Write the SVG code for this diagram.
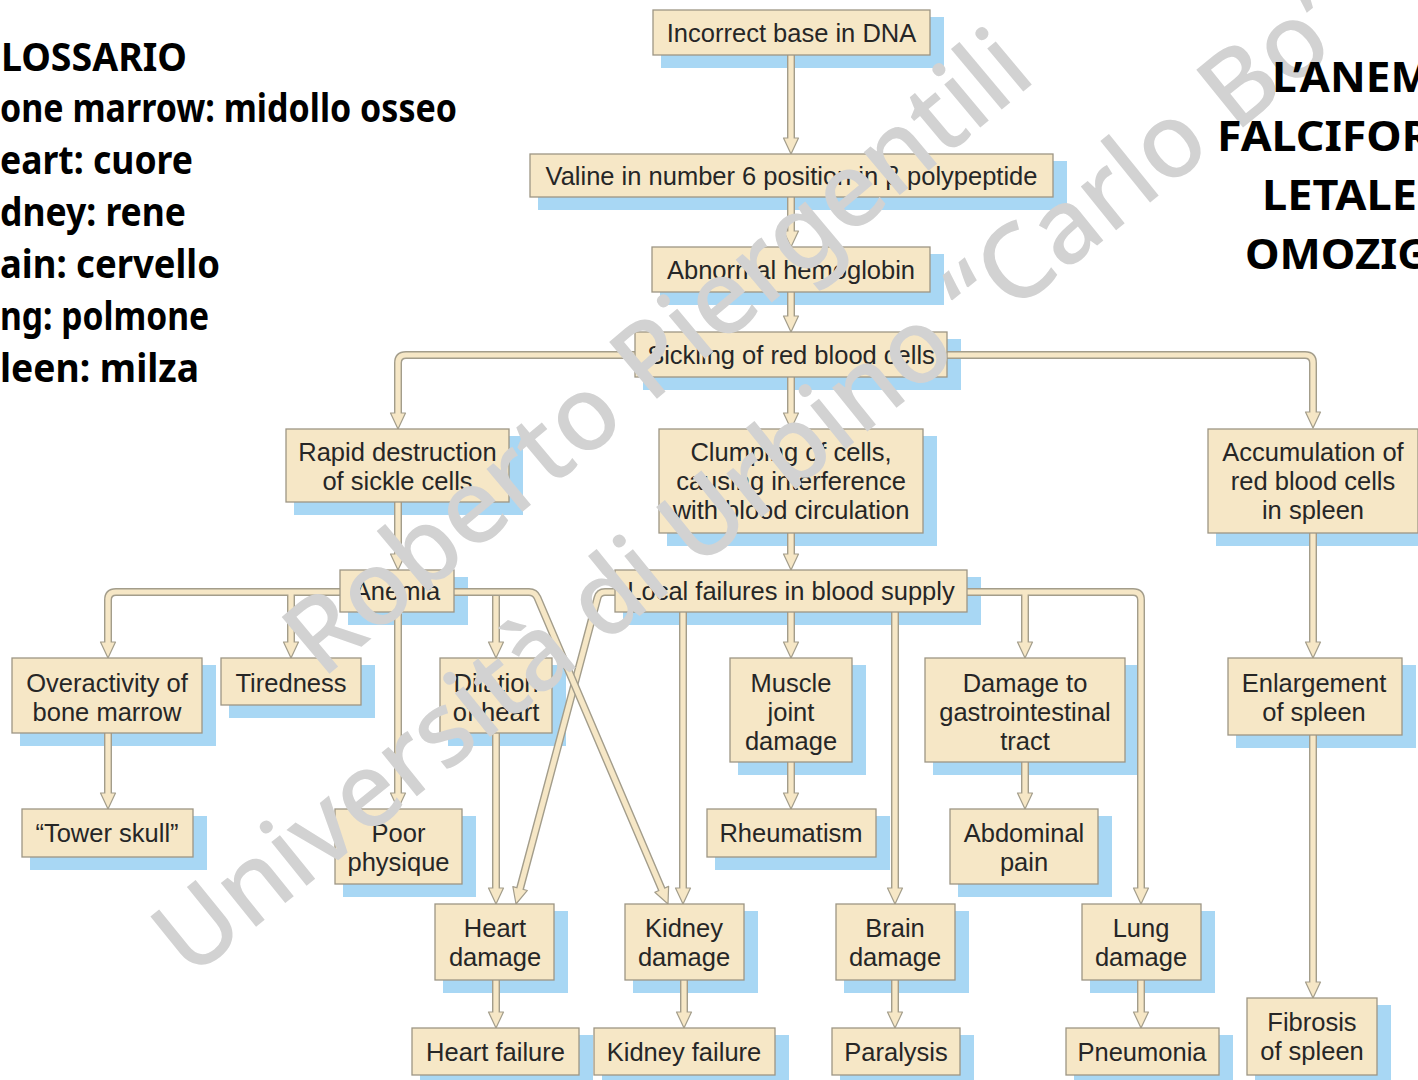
<svg xmlns="http://www.w3.org/2000/svg" xmlns:xlink="http://www.w3.org/1999/xlink" width="1418" height="1080" viewBox="0 0 1418 1080">
<style>
.sh{fill:#a8d7f4}
.bx{fill:#f6e7c6;stroke:#9d9684;stroke-width:1.3}
.t{font-family:"Liberation Sans",Arial,sans-serif;font-size:25.5px;fill:#262626;text-anchor:middle}
.outer{fill:none;stroke:#a39d8b;stroke-width:8}
.inner{fill:none;stroke:#f6e7c6;stroke-width:5.2}
.ah{fill:#f6e7c6;stroke:#a39d8b;stroke-width:1.2;stroke-linejoin:round}
.gl{font-family:"Noto Sans","DejaVu Sans",sans-serif;font-weight:bold;font-size:40px;fill:#000}
.ti{font-family:"Noto Sans","DejaVu Sans",sans-serif;font-weight:bold;font-size:42px;fill:#000}
.wm{font-family:"Noto Sans","Open Sans",sans-serif;font-weight:500;font-size:104px;fill:#d2d2d2}
</style>
<defs>
<path id="head" d="M-7.5,-16 L7.5,-16 L0,0 Z"/>
<path id="p1" d="M791,54 V141"/>
<path id="p2" d="M791,197 V234"/>
<path id="p3" d="M791,292 V319"/>
<path id="p4" d="M791,377 V416"/>
<path id="p5" d="M640,355 H406 Q398,355 398,363 V416"/>
<path id="p6" d="M942,355 H1305 Q1313,355 1313,363 V415"/>
<path id="p7" d="M398,502 V557"/>
<path id="p8" d="M791,533 V557"/>
<path id="p9" d="M345,592 H116 Q108,592 108,600 V645"/>
<path id="p10" d="M291,592 V645"/>
<path id="p11" d="M398,612 V796"/>
<path id="p13" d="M449,592 H496 V645"/>
<path id="p14" d="M496,733 V891"/>
<path id="p15" d="M620,592 H605 Q599,592 597.5,597.8 L519.3,891.4"/>
<path id="p16" d="M683,612 V891"/>
<path id="p17" d="M791,612 V645"/>
<path id="p18" d="M895,612 V891"/>
<path id="p19" d="M962,592 H1133 Q1141,592 1141,600 V891"/>
<path id="p20" d="M1025,592 V645"/>
<path id="p21" d="M791,762 V796"/>
<path id="p22" d="M1025,762 V796"/>
<path id="p23" d="M108,733 V796"/>
<path id="p24" d="M496,980 V1015"/>
<path id="p25" d="M684,980 V1015"/>
<path id="p26" d="M895,980 V1015"/>
<path id="p27" d="M1141,980 V1015"/>
<path id="p28" d="M1313,533 V645"/>
<path id="p29" d="M1313,735 V985"/>
<path id="p12" d="M449,592 H529 Q535,592 537.4,597.5 L662.9,892"/>
</defs>
<rect width="1418" height="1080" fill="#ffffff"/>

<g id="glossary">
<text class="gl" x="1" y="71" textLength="186" lengthAdjust="spacingAndGlyphs">LOSSARIO</text>
<text class="gl" x="0" y="122" textLength="457" lengthAdjust="spacingAndGlyphs">one marrow: midollo osseo</text>
<text class="gl" x="0" y="174" textLength="193" lengthAdjust="spacingAndGlyphs">eart: cuore</text>
<text class="gl" x="0" y="226" textLength="186" lengthAdjust="spacingAndGlyphs">dney: rene</text>
<text class="gl" x="0" y="278" textLength="220" lengthAdjust="spacingAndGlyphs">ain: cervello</text>
<text class="gl" x="0" y="330" textLength="209" lengthAdjust="spacingAndGlyphs">ng: polmone</text>
<text class="gl" x="0" y="382" textLength="199" lengthAdjust="spacingAndGlyphs">leen: milza</text>
</g>

<g id="shadows">
<rect class="sh" x="661" y="17" width="283" height="51"/>
<rect class="sh" x="538" y="161" width="529" height="49"/>
<rect class="sh" x="660" y="254" width="284" height="51"/>
<rect class="sh" x="643" y="339" width="318" height="51"/>
<rect class="sh" x="294" y="436" width="229" height="79"/>
<rect class="sh" x="667" y="436" width="270" height="110"/>
<rect class="sh" x="1216" y="436" width="216" height="110"/>
<rect class="sh" x="348" y="577" width="120" height="48"/>
<rect class="sh" x="623" y="577" width="358" height="48"/>
<rect class="sh" x="20" y="665" width="196" height="81"/>
<rect class="sh" x="229" y="665" width="146" height="53"/>
<rect class="sh" x="448" y="665" width="118" height="81"/>
<rect class="sh" x="738" y="665" width="128" height="110"/>
<rect class="sh" x="933" y="665" width="206" height="110"/>
<rect class="sh" x="1236" y="665" width="180" height="83"/>
<rect class="sh" x="30" y="816" width="177" height="54"/>
<rect class="sh" x="343" y="816" width="133" height="81"/>
<rect class="sh" x="715" y="816" width="175" height="54"/>
<rect class="sh" x="958" y="816" width="154" height="81"/>
<rect class="sh" x="443" y="911" width="125" height="82"/>
<rect class="sh" x="633" y="911" width="125" height="82"/>
<rect class="sh" x="844" y="911" width="125" height="82"/>
<rect class="sh" x="1090" y="911" width="125" height="82"/>
<rect class="sh" x="1255" y="1005" width="136" height="83"/>
<rect class="sh" x="420" y="1035" width="173" height="53"/>
<rect class="sh" x="602" y="1035" width="187" height="53"/>
<rect class="sh" x="840" y="1035" width="134" height="53"/>
<rect class="sh" x="1074" y="1035" width="159" height="53"/>
</g>

<g id="connectors">
<g class="outer">
<use xlink:href="#p1"/><use xlink:href="#p2"/><use xlink:href="#p3"/><use xlink:href="#p4"/><use xlink:href="#p5"/><use xlink:href="#p6"/><use xlink:href="#p7"/><use xlink:href="#p8"/><use xlink:href="#p9"/><use xlink:href="#p10"/><use xlink:href="#p11"/><use xlink:href="#p13"/><use xlink:href="#p14"/><use xlink:href="#p15"/><use xlink:href="#p16"/><use xlink:href="#p17"/><use xlink:href="#p18"/><use xlink:href="#p19"/><use xlink:href="#p20"/><use xlink:href="#p21"/><use xlink:href="#p22"/><use xlink:href="#p23"/><use xlink:href="#p24"/><use xlink:href="#p25"/><use xlink:href="#p26"/><use xlink:href="#p27"/><use xlink:href="#p28"/><use xlink:href="#p29"/>
</g>
<g class="ah">
<use xlink:href="#head" x="791" y="154"/><use xlink:href="#head" x="791" y="247"/><use xlink:href="#head" x="791" y="332"/><use xlink:href="#head" x="791" y="429"/><use xlink:href="#head" x="398" y="429"/><use xlink:href="#head" x="1313" y="428"/><use xlink:href="#head" x="398" y="570"/><use xlink:href="#head" x="791" y="570"/><use xlink:href="#head" x="108" y="658"/><use xlink:href="#head" x="291" y="658"/><use xlink:href="#head" x="398" y="809"/><use xlink:href="#head" x="496" y="658"/><use xlink:href="#head" x="496" y="904"/><use xlink:href="#head" transform="translate(516,904) rotate(14.9)"/><use xlink:href="#head" x="683" y="904"/><use xlink:href="#head" x="791" y="658"/><use xlink:href="#head" x="895" y="904"/><use xlink:href="#head" x="1141" y="904"/><use xlink:href="#head" x="1025" y="658"/><use xlink:href="#head" x="791" y="809"/><use xlink:href="#head" x="1025" y="809"/><use xlink:href="#head" x="108" y="809"/><use xlink:href="#head" x="496" y="1028"/><use xlink:href="#head" x="684" y="1028"/><use xlink:href="#head" x="895" y="1028"/><use xlink:href="#head" x="1141" y="1028"/><use xlink:href="#head" x="1313" y="658"/><use xlink:href="#head" x="1313" y="998"/>
</g>
<g class="inner">
<use xlink:href="#p1"/><use xlink:href="#p2"/><use xlink:href="#p3"/><use xlink:href="#p4"/><use xlink:href="#p5"/><use xlink:href="#p6"/><use xlink:href="#p7"/><use xlink:href="#p8"/><use xlink:href="#p9"/><use xlink:href="#p10"/><use xlink:href="#p11"/><use xlink:href="#p13"/><use xlink:href="#p14"/><use xlink:href="#p15"/><use xlink:href="#p16"/><use xlink:href="#p17"/><use xlink:href="#p18"/><use xlink:href="#p19"/><use xlink:href="#p20"/><use xlink:href="#p21"/><use xlink:href="#p22"/><use xlink:href="#p23"/><use xlink:href="#p24"/><use xlink:href="#p25"/><use xlink:href="#p26"/><use xlink:href="#p27"/><use xlink:href="#p28"/><use xlink:href="#p29"/>
</g>
<use class="outer" xlink:href="#p12"/>
<use class="ah" xlink:href="#head" transform="translate(668,904) rotate(-23.1)"/>
<use class="inner" xlink:href="#p12"/>
</g>

<g id="n-dna"><rect class="bx" x="653" y="10" width="277" height="45"/><text class="t" x="791.5" y="41.5">Incorrect base in DNA</text></g>
<g id="n-valine"><rect class="bx" x="530" y="154" width="523" height="43"/><text class="t" x="791.5" y="184.5">Valine in number 6 position in β polypeptide</text></g>
<g id="n-abnormal"><rect class="bx" x="652" y="247" width="278" height="45"/><text class="t" x="791" y="278.5">Abnormal hemoglobin</text></g>
<g id="n-sickling"><rect class="bx" x="635" y="332" width="312" height="45"/><text class="t" x="791" y="363.5">Sickling of red blood cells</text></g>
<g id="n-rapid"><rect class="bx" x="286" y="429" width="223" height="73"/><text class="t" x="397.5" y="461">Rapid destruction</text><text class="t" x="397.5" y="490">of sickle cells</text></g>
<g id="n-clumping"><rect class="bx" x="659" y="429" width="264" height="104"/><text class="t" x="791" y="461">Clumping of cells,</text><text class="t" x="791" y="490">causing interference</text><text class="t" x="791" y="519">with blood circulation</text></g>
<g id="n-accumulation"><rect class="bx" x="1208" y="429" width="210" height="104"/><text class="t" x="1313" y="461">Accumulation of</text><text class="t" x="1313" y="490">red blood cells</text><text class="t" x="1313" y="519">in spleen</text></g>
<g id="n-anemia"><rect class="bx" x="340" y="570" width="114" height="42"/><text class="t" x="397" y="600">Anemia</text></g>
<g id="n-local"><rect class="bx" x="615" y="570" width="352" height="42"/><text class="t" x="791" y="600">Local failures in blood supply</text></g>
<g id="n-overactivity"><rect class="bx" x="12" y="658" width="190" height="75"/><text class="t" x="107" y="692">Overactivity of</text><text class="t" x="107" y="721">bone marrow</text></g>
<g id="n-tiredness"><rect class="bx" x="221" y="658" width="140" height="47"/><text class="t" x="291" y="692">Tiredness</text></g>
<g id="n-dilation"><rect class="bx" x="440" y="658" width="112" height="75"/><text class="t" x="496" y="692">Dilation</text><text class="t" x="496" y="721">of heart</text></g>
<g id="n-muscle"><rect class="bx" x="730" y="658" width="122" height="104"/><text class="t" x="791" y="692">Muscle</text><text class="t" x="791" y="721">joint</text><text class="t" x="791" y="750">damage</text></g>
<g id="n-gi"><rect class="bx" x="925" y="658" width="200" height="104"/><text class="t" x="1025" y="692">Damage to</text><text class="t" x="1025" y="721">gastrointestinal</text><text class="t" x="1025" y="750">tract</text></g>
<g id="n-enlargement"><rect class="bx" x="1228" y="658" width="174" height="77"/><text class="t" x="1314" y="692">Enlargement</text><text class="t" x="1314" y="721">of spleen</text></g>
<g id="n-tower"><rect class="bx" x="22" y="809" width="171" height="48"/><text class="t" x="107" y="842">“Tower skull”</text></g>
<g id="n-poor"><rect class="bx" x="335" y="809" width="127" height="75"/><text class="t" x="398.5" y="842">Poor</text><text class="t" x="398.5" y="871">physique</text></g>
<g id="n-rheumatism"><rect class="bx" x="707" y="809" width="169" height="48"/><text class="t" x="791" y="842">Rheumatism</text></g>
<g id="n-abdominal"><rect class="bx" x="950" y="809" width="148" height="75"/><text class="t" x="1024" y="842">Abdominal</text><text class="t" x="1024" y="871">pain</text></g>
<g id="n-heartdamage"><rect class="bx" x="435" y="904" width="119" height="76"/><text class="t" x="495" y="937">Heart</text><text class="t" x="495" y="966">damage</text></g>
<g id="n-kidneydamage"><rect class="bx" x="625" y="904" width="119" height="76"/><text class="t" x="684" y="937">Kidney</text><text class="t" x="684" y="966">damage</text></g>
<g id="n-braindamage"><rect class="bx" x="836" y="904" width="119" height="76"/><text class="t" x="895" y="937">Brain</text><text class="t" x="895" y="966">damage</text></g>
<g id="n-lungdamage"><rect class="bx" x="1082" y="904" width="119" height="76"/><text class="t" x="1141" y="937">Lung</text><text class="t" x="1141" y="966">damage</text></g>
<g id="n-fibrosis"><rect class="bx" x="1247" y="998" width="130" height="77"/><text class="t" x="1312" y="1031">Fibrosis</text><text class="t" x="1312" y="1060">of spleen</text></g>
<g id="n-heartfailure"><rect class="bx" x="412" y="1028" width="167" height="47"/><text class="t" x="495.5" y="1061">Heart failure</text></g>
<g id="n-kidneyfailure"><rect class="bx" x="594" y="1028" width="181" height="47"/><text class="t" x="684" y="1061">Kidney failure</text></g>
<g id="n-paralysis"><rect class="bx" x="832" y="1028" width="128" height="47"/><text class="t" x="896" y="1061">Paralysis</text></g>
<g id="n-pneumonia"><rect class="bx" x="1066" y="1028" width="153" height="47"/><text class="t" x="1142" y="1061">Pneumonia</text></g>

<g id="watermark">
<text class="wm" transform="translate(322,680) rotate(-40)" textLength="935" lengthAdjust="spacingAndGlyphs">Roberto Piergentili</text>
<text class="wm" transform="translate(190,980) rotate(-39)" textLength="1515" lengthAdjust="spacingAndGlyphs">Università di Urbino “Carlo Bo”</text>
</g>

<g id="title">
<text class="ti" x="1272" y="92" textLength="160" lengthAdjust="spacingAndGlyphs">L’ANEM</text>
<text class="ti" x="1217" y="151" textLength="214" lengthAdjust="spacingAndGlyphs">FALCIFOR</text>
<text class="ti" x="1262" y="210" textLength="155" lengthAdjust="spacingAndGlyphs">LETALE</text>
<text class="ti" x="1245" y="269" textLength="184" lengthAdjust="spacingAndGlyphs">OMOZIG</text>
</g>
</svg>
